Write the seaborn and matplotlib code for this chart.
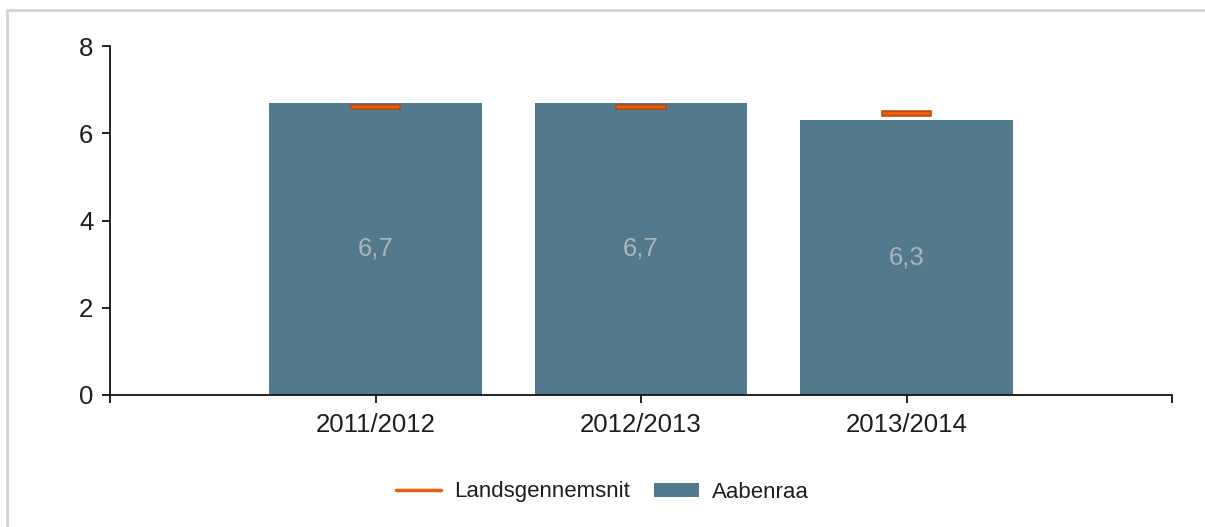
import numpy as np
import seaborn as sns
import matplotlib.pyplot as plt
from matplotlib.lines import Line2D
from matplotlib.patches import Patch

# data
seasons = ['2011/2012', '2012/2013', '2013/2014']
aabenraa = [6.7, 6.7, 6.3]
landsgennemsnit = [6.6, 6.6, 6.45]

BAR_COLOR = '#537a8c'
ORANGE = '#e8600c'
ORANGE_EDGE = '#b8460a'

sns.set_style('white')
plt.rcParams['font.family'] = ['Liberation Sans', 'DejaVu Sans']

fig = plt.figure(figsize=(12.05, 5.27), dpi=100)
ax = fig.add_axes([110 / 1205, 1 - 395 / 527, (1172 - 110) / 1205, (395 - 46) / 527])

sns.barplot(x=seasons, y=aabenraa, color=BAR_COLOR, saturation=1, width=0.8,
            edgecolor='none', ax=ax)

# bar labels in the middle of the bars
ax.bar_label(ax.containers[0], labels=[f'{v:.1f}'.replace('.', ',') for v in aabenraa],
             label_type='center', color='#aab4ba', fontsize=18.5)

# national average as small orange markers
pos = np.arange(len(seasons))
ax.bar(pos, 0.11, bottom=np.array(landsgennemsnit) - 0.055, width=0.185,
       color=ORANGE, edgecolor=ORANGE_EDGE, linewidth=1.1, zorder=3)

ax.set_xlim(-1, 3)
ax.set_ylim(0, 8)
ax.set_xticks([-1, 0, 1, 2, 3])
ax.set_xticklabels([''] + seasons + [''])
ax.set_yticks([0, 2, 4, 6, 8])
ax.set_xlabel('')
ax.set_ylabel('')

for s in ['top', 'right']:
    ax.spines[s].set_visible(False)
for s in ['left', 'bottom']:
    ax.spines[s].set_color('#111111')
    ax.spines[s].set_linewidth(1.3)
ax.tick_params(axis='both', which='major', length=6, width=1.3, color='#111111',
               labelsize=18.5, labelcolor='#1e1e1e', direction='out',
               bottom=True, left=True)
ax.tick_params(axis='x', pad=7)
ax.tick_params(axis='y', pad=6)

handles = [Line2D([0], [0], color=ORANGE, lw=2.5),
           Patch(facecolor=BAR_COLOR, edgecolor='none')]
fig.legend(handles, ['Landsgennemsnit', 'Aabenraa'], loc='center',
           bbox_to_anchor=(0.5, 1 - 492 / 527), ncol=2, frameon=False,
           fontsize=16, handlelength=2.0, handleheight=0.6,
           handletextpad=0.6, columnspacing=1.1, labelcolor='#1e1e1e')

# thin gray frame on top and left
fig.add_artist(Line2D([7.5 / 1205, 7.5 / 1205], [0, 1 - 9.5 / 527],
                      transform=fig.transFigure, color='#d4d4d4', lw=2))
fig.add_artist(Line2D([7.5 / 1205, 1], [1 - 9.5 / 527, 1 - 9.5 / 527],
                      transform=fig.transFigure, color='#d4d4d4', lw=2))

fig.savefig('out.png', dpi=100)
